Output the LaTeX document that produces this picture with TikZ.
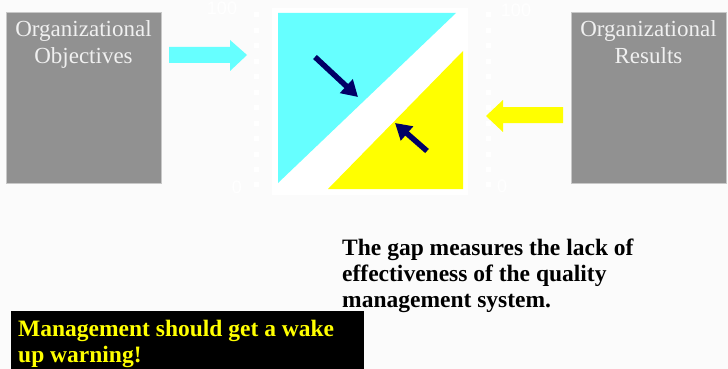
\documentclass[tikz,border=0pt]{standalone}
\usepackage{fontspec}
\setmainfont{Liberation Serif}
\setsansfont{Liberation Sans}
\usetikzlibrary{arrows.meta}
\definecolor{bg}{RGB}{251,251,251}
\definecolor{boxgray}{RGB}{145,145,145}
\definecolor{boxedge}{RGB}{200,200,200}
\definecolor{cyanfill}{RGB}{102,255,255}
\definecolor{yelfill}{RGB}{255,255,0}
\definecolor{navy}{RGB}{0,0,102}
\definecolor{boxtext}{RGB}{240,240,240}
\tikzset{
  graybox/.style={fill=boxgray,draw=boxedge,line width=0.8pt},
  boxlabel/.style={anchor=north,align=center,inner sep=0pt,text=boxtext,font=\fontsize{23}{27}\selectfont},
  navyarrow/.style={draw=navy,line width=5.5pt,-{Triangle[length=16pt,width=18pt]}},
  scaledot/.style={fill=white},
  scalelabel/.style={text=white,inner sep=0pt,font=\sffamily\fontsize{18}{18}\selectfont},
  boldtext/.style={anchor=north west,align=left,inner sep=0pt,font=\bfseries\fontsize{23.5}{26}\selectfont}
}
\begin{document}
\begin{tikzpicture}[x=1pt,y=-1pt]
\useasboundingbox (0,0) rectangle (728,369);
\fill[bg] (0,0) rectangle (728,369);
% gray boxes
\draw[graybox] (6,12) rectangle (161,183);
\node[boxlabel] (objt) at (83.5,20) {Organizational\\Objectives};
\draw[graybox] (571,12) rectangle (726,183);
\node[boxlabel] (rest) at (648.5,20) {Organizational\\Results};
% white square
\fill[white] (272,8) rectangle (468,195);
% triangles
\fill[cyanfill] (278,13) -- (456,13) -- (278,183) -- cycle;
\fill[yelfill] (463,51) -- (463,189) -- (328,189) -- cycle;
% scale dots
\foreach \i in {0,...,11} {
  \fill[scaledot] (253.5,{15+\i*15.45-2.5}) rectangle ++(5,5);
  \fill[scaledot] (485.5,{15+\i*15.45-2.5}) rectangle ++(5,5);
}
\node[scalelabel] (l100) at (222,8) {100};
\node[scalelabel] (l0) at (237,187) {0};
\node[scalelabel] (r100) at (516,10) {100};
\node[scalelabel] (r0) at (502,186) {0};
% cyan arrow
\fill[cyanfill] (169,47) -- (230,47) -- (230,40) -- (247,55) -- (230,71) -- (230,63) -- (169,63) -- cycle;
% yellow arrow
\fill[yelfill] (563,107) -- (503,107) -- (503,100) -- (486,116) -- (503,132) -- (503,123) -- (563,123) -- cycle;
% navy arrows
\coordinate (a1s) at (315,57);
\coordinate (a1e) at (358,97);
\coordinate (a2s) at (427,151);
\coordinate (a2e) at (395,123);
\draw[navyarrow] (a1s) -- (a1e);
\draw[navyarrow] (a2s) -- (a2e);
% gap text
\node[boldtext] (gap) at (342,238.5) {The gap measures the lack of\\effectiveness of the quality\\management system.};
% warning box
\fill[black] (11,311) rectangle (364,369);
\node[boldtext,text=yelfill] (warn) at (18,319.5) {Management should get a wake\\up warning!};
\end{tikzpicture}
\end{document}
